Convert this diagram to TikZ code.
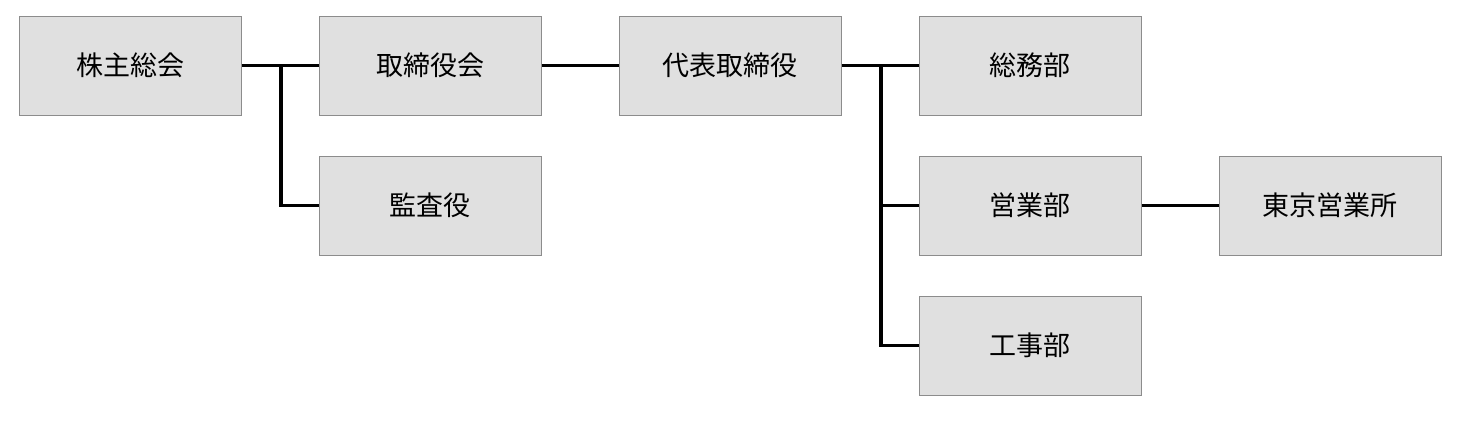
\documentclass[tikz,border=0pt]{standalone}
\usepackage{fontspec}
\newfontfamily\jp{Noto Sans CJK JP}
\definecolor{boxfill}{HTML}{E0E0E0}
\definecolor{boxline}{HTML}{8C8C8C}
\begin{document}
\begin{tikzpicture}[x=1pt,y=-1pt,
  orgbox/.style={draw=boxline,line width=1pt,fill=boxfill,minimum width=222pt,minimum height=99pt,inner sep=0pt,font=\jp\fontsize{27}{32}\selectfont},
  link/.style={line width=3.5pt,black}]
\useasboundingbox (0,0) rectangle (1465,423);
\newcommand{\lbl}[1]{\raisebox{-3pt}{#1}}
\node[orgbox] (kabu) at (130,65.5) {\lbl{株主総会}};
\node[orgbox] (tori) at (430,65.5) {\lbl{取締役会}};
\node[orgbox] (kansa) at (430,205.5) {\lbl{監査役}};
\node[orgbox] (dai) at (730,65.5) {\lbl{代表取締役}};
\node[orgbox] (somu) at (1030,65.5) {\lbl{総務部}};
\node[orgbox] (eigyo) at (1030,205.5) {\lbl{営業部}};
\node[orgbox] (koji) at (1030,345.5) {\lbl{工事部}};
\node[orgbox] (tokyo) at (1330,205.5) {\lbl{東京営業所}};
\coordinate (j1) at (281,66);
\coordinate (j2) at (881,66);
\draw[link] (kabu.east) -- (tori.west);
\draw[link] (j1) |- (kansa.west);
\draw[link] (tori.east) -- (dai.west);
\draw[link] (dai.east) -- (somu.west);
\draw[link] (j2) |- (eigyo.west);
\draw[link] (j2) |- (koji.west);
\draw[link] (eigyo.east) -- (tokyo.west);
\end{tikzpicture}
\end{document}
